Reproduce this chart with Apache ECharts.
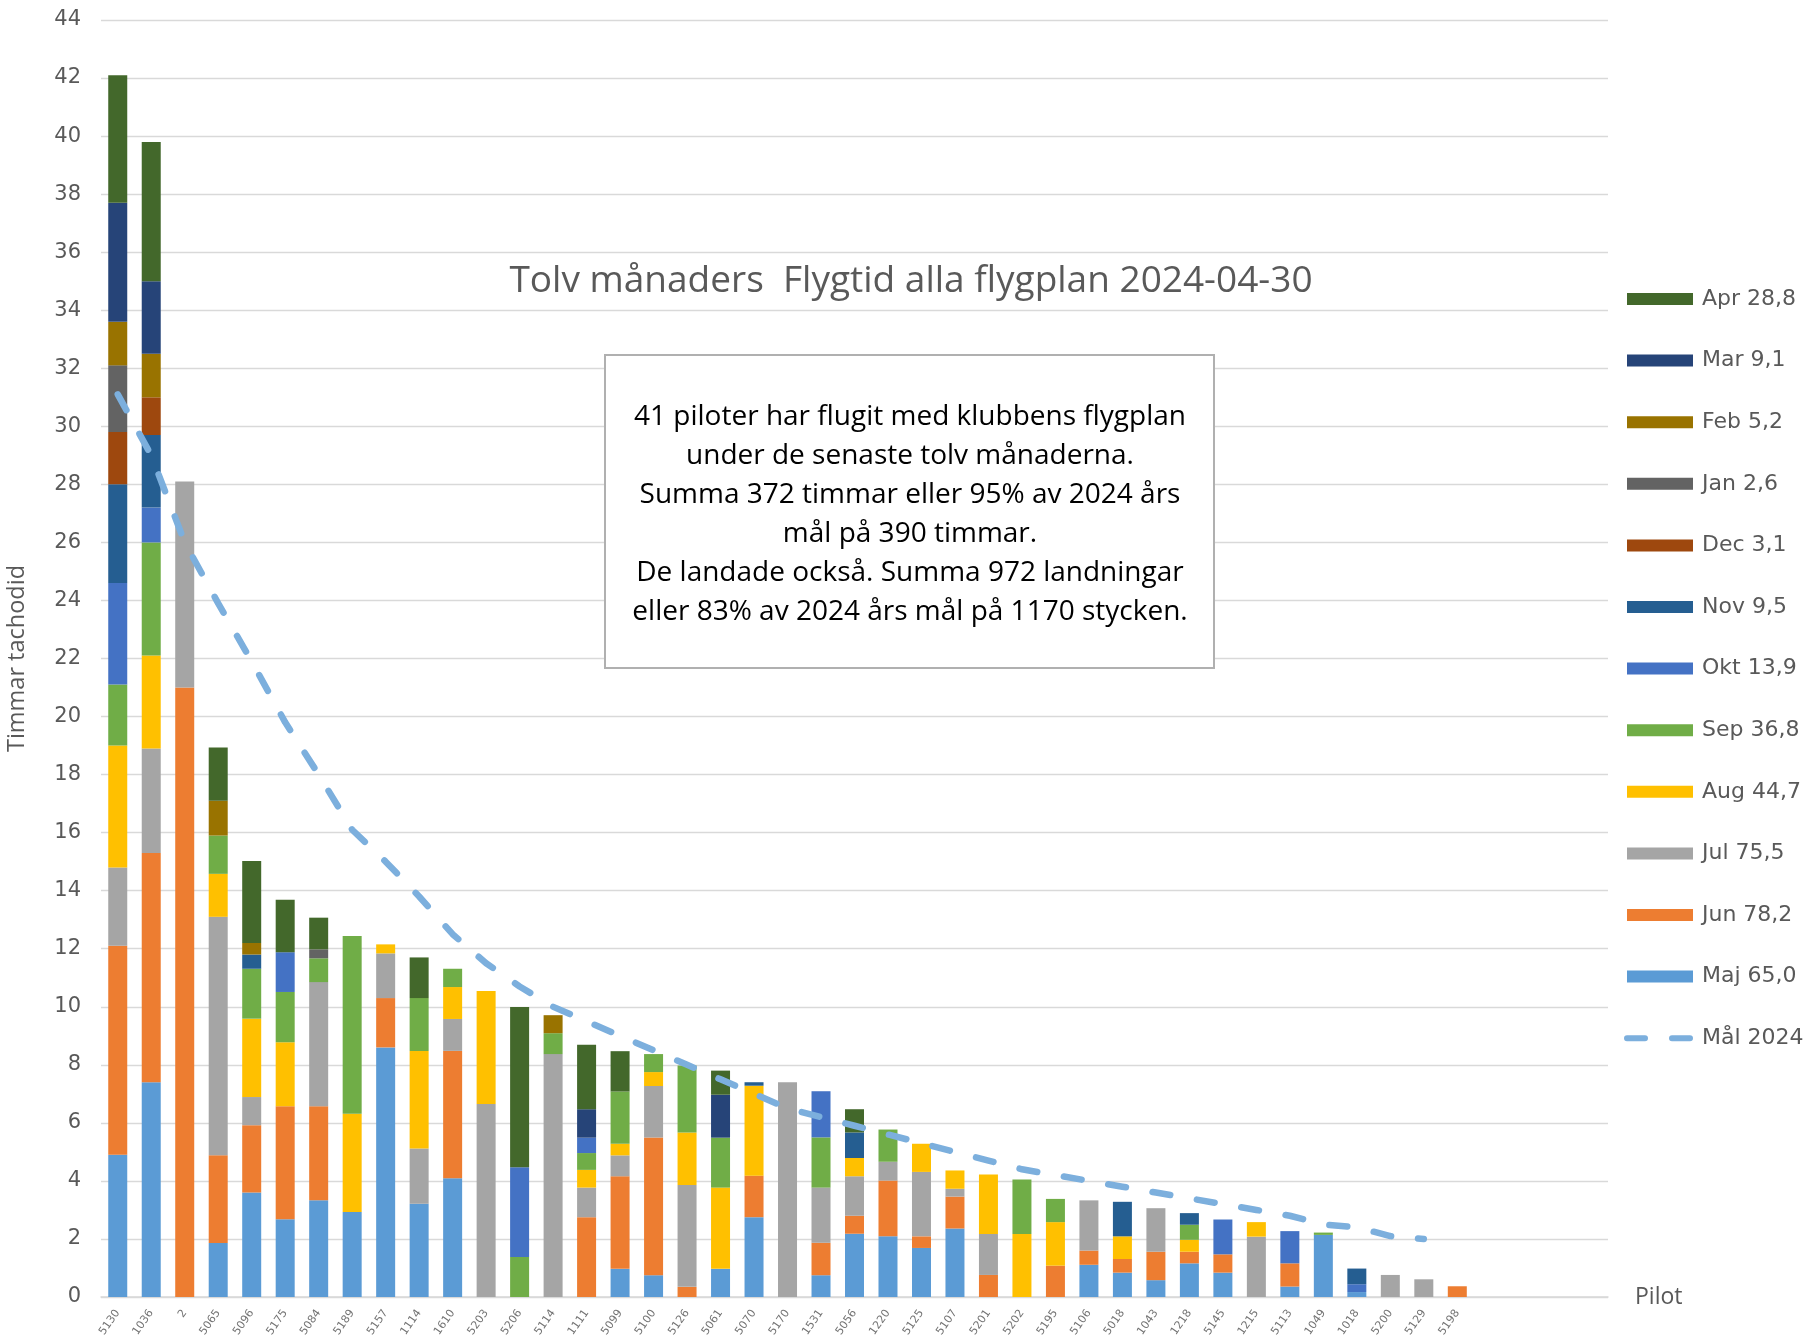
<!DOCTYPE html>
<html>
<head>
<meta charset="utf-8">
<script src="https://cdn.jsdelivr.net/npm/echarts@6/dist/echarts.min.js"></script>
<style>
  html, body { margin: 0; padding: 0; background: #fff; }
  #chart { width: 1808px; height: 1337px; }
</style>
</head>
<body>
<div id="chart"></div>
<script>
// piloter (4 tomma platser i slutet som i originalet)
const pilots = ['5130','1036','2','5065','5096','5175','5084','5189','5157','1114','1610','5203','5206','5114','1111','5099','5100','5126','5061','5070','5170','1531','5056','1220','5125','5107','5201','5202','5195','5106','5018','1043','1218','5145','1215','5113','1049','1018','5200','5129','5198','','','',''];

// timmar per månad och pilot
const maj = [4.9,7.4,0,1.86,3.6,2.68,3.33,2.93,8.6,3.21,4.09,0,0,0,0,0.97,0.75,0,0.97,2.75,0,0.75,2.18,2.09,1.69,2.36,0,0,0,1.11,0.84,0.58,1.16,0.84,0,0.36,2.14,0.17,0,0,0];
const jun = [7.2,7.9,21.0,3.02,2.32,3.89,3.24,0,1.7,0,4.39,0,0,0,2.75,3.19,4.75,0.35,0,1.43,0,1.12,0.62,1.92,0.4,1.1,0.76,0,1.08,0.49,0.47,0.98,0.4,0.63,0,0.8,0,0,0,0,0.37];
const jul = [2.7,3.6,7.1,8.22,0.97,0,4.28,0,1.54,1.91,1.1,6.65,0,8.37,1.02,0.72,1.77,3.51,0,0,7.4,1.9,1.36,0.65,2.22,0.27,1.41,0,0,1.73,0,1.5,0,0,2.08,0,0,0,0.76,0.61,0];
const aug = [4.2,3.2,0,1.48,2.7,2.21,0,3.38,0.31,3.36,1.1,3.89,0,0,0.61,0.4,0.48,1.81,2.8,3.1,0,0,0.63,0,0.97,0.63,2.05,2.17,1.5,0,0.78,0,0.41,0,0.5,0,0,0,0,0,0];
const sep = [2.1,3.9,0,1.32,1.72,1.73,0.82,6.13,0,1.82,0.63,0,1.38,0.72,0.58,1.8,0.62,2.31,1.72,0,0,1.73,0,1.11,0,0,0,1.88,0.8,0,0,0,0.52,0,0,0,0.08,0,0,0,0];
const okt = [3.5,1.2,0,0,0,1.37,0,0,0,0,0,0,3.09,0,0.53,0,0,0,0,0,0,1.59,0,0,0,0,0,0,0,0,0,0,0,1.2,0,1.11,0,0.27,0,0,0];
const nov = [3.4,2.5,0,0,0.49,0,0,0,0,0,0,0,0,0,0,0,0,0,0,0.12,0,0,0.88,0,0,0,0,0,0,0,1.19,0,0.4,0,0,0,0,0.54,0,0,0];
const dec = [1.8,1.3,0,0,0,0,0,0,0,0,0,0,0,0,0,0,0,0,0,0,0,0,0,0,0,0,0,0,0,0,0,0,0,0,0,0,0,0,0,0,0];
const jan = [2.3,0,0,0,0,0,0.31,0,0,0,0,0,0,0,0,0,0,0,0,0,0,0,0,0,0,0,0,0,0,0,0,0,0,0,0,0,0,0,0,0,0];
const feb = [1.5,1.5,0,1.2,0.4,0,0,0,0,0,0,0,0,0.62,0,0,0,0,0,0,0,0,0,0,0,0,0,0,0,0,0,0,0,0,0,0,0,0,0,0,0];
const mar = [4.1,2.5,0,0,0,0,0,0,0,0,0,0,0,0,0.98,0,0,0,1.48,0,0,0,0,0,0,0,0,0,0,0,0,0,0,0,0,0,0,0,0,0,0];
const apr = [4.4,4.8,0,1.83,2.82,1.81,1.09,0,0,1.4,0,0,5.52,0,2.22,1.39,0,0,0.83,0,0,0,0.8,0,0,0,0,0,0,0,0,0,0,0,0,0,0,0,0,0,0];

// mål 2024 per pilot
const mal = [31.1,29.0,26.0,23.9,21.9,19.8,18.0,16.1,15.0,13.8,12.5,11.5,10.7,10.0,9.5,9.0,8.5,8.0,7.5,7.0,6.5,6.2,5.9,5.6,5.3,5.0,4.7,4.4,4.2,4.0,3.8,3.6,3.4,3.2,3.0,2.8,2.5,2.4,2.1,2.0,null];

const months = [
  { name: 'Maj 65,0', data: maj, color: '#5b9bd5' },
  { name: 'Jun 78,2', data: jun, color: '#ed7d31' },
  { name: 'Jul 75,5', data: jul, color: '#a5a5a5' },
  { name: 'Aug 44,7', data: aug, color: '#ffc000' },
  { name: 'Sep 36,8', data: sep, color: '#70ad47' },
  { name: 'Okt 13,9', data: okt, color: '#4472c4' },
  { name: 'Nov 9,5', data: nov, color: '#255e91' },
  { name: 'Dec 3,1', data: dec, color: '#9e480e' },
  { name: 'Jan 2,6', data: jan, color: '#636363' },
  { name: 'Feb 5,2', data: feb, color: '#997300' },
  { name: 'Mar 9,1', data: mar, color: '#264478' },
  { name: 'Apr 28,8', data: apr, color: '#43682b' }
];
const malName = 'Mål 2024';
const malColor = '#7cafdd';

const boxText = [
  '41 piloter har flugit med klubbens flygplan',
  'under de senaste tolv månaderna.',
  'Summa 372 timmar eller 95% av 2024 års',
  'mål på 390 timmar.',
  'De landade också. Summa 972 landningar',
  'eller 83% av 2024 års mål på 1170 stycken.'
].join('\n');

const chart = echarts.init(document.getElementById('chart'));

const series = months.map(m => ({
  name: m.name,
  type: 'bar',
  stack: 'tot',
  barWidth: 19,
  data: m.data,
  itemStyle: { color: m.color },
  emphasis: { disabled: true }
}));
series.push({
  name: malName,
  type: 'line',
  data: mal,
  symbol: 'none',
  z: 5,
  lineStyle: { color: malColor, width: 6.5, type: [18, 27], cap: 'round' }
});

// legenden: Apr överst, Maj nederst, sedan målet
const legendData = months.slice().reverse().map(m => ({ name: m.name, icon: 'rect' }));
legendData.push({
  name: malName,
  itemStyle: { opacity: 0 },
  lineStyle: { color: malColor, width: 6, type: [18, 27], cap: 'round' }
});

const option = {
  animation: false,
  grid: { left: 101, right: 200, top: 20, bottom: 40, outerBoundsMode: 'none' },
  legend: {
    orient: 'vertical',
    left: 1619,
    top: 282,
    itemWidth: 66,
    itemHeight: 12,
    itemGap: 37.6,
    data: legendData,
    textStyle: { fontFamily: 'DejaVu Sans', fontSize: 22, color: '#595959', lineHeight: 24, padding: [0, 0, 0, 4] }
  },
  xAxis: {
    type: 'category',
    data: pilots,
    name: 'Pilot',
    nameLocation: 'end',
    nameGap: 27,
    nameTextStyle: { fontFamily: 'Open Sans', fontSize: 23, color: '#595959' },
    axisTick: { show: false },
    axisLine: { lineStyle: { color: '#d9d9d9', width: 1.5 } },
    axisLabel: { interval: 0, rotate: 55, fontSize: 11, color: '#737373', fontFamily: 'DejaVu Sans', margin: 14 }
  },
  yAxis: {
    type: 'value',
    min: 0,
    max: 44,
    interval: 2,
    name: 'Timmar tachodid',
    nameLocation: 'middle',
    nameGap: 72,
    nameRotate: 90,
    nameTextStyle: { fontFamily: 'Open Sans', fontSize: 23.5, color: '#595959' },
    axisLine: { show: false },
    axisTick: { show: false },
    axisLabel: { fontFamily: 'DejaVu Sans', fontSize: 21, color: '#595959', margin: 20 },
    splitLine: { lineStyle: { color: '#d9d9d9', width: 1.3 } }
  },
  graphic: [
    {
      type: 'text',
      x: 911,
      y: 281,
      z: 10,
      style: {
        text: 'Tolv månaders  Flygtid alla flygplan 2024-04-30',
        font: '37px "Open Sans"',
        fill: '#595959',
        textAlign: 'center',
        textVerticalAlign: 'middle'
      }
    },
    {
      type: 'rect',
      z: 10,
      shape: { x: 605, y: 355, width: 609, height: 313 },
      style: { fill: '#fff', stroke: '#b0b0b0', lineWidth: 2 }
    },
    {
      type: 'text',
      x: 910,
      y: 515,
      z: 11,
      style: {
        text: boxText,
        font: '28px "Open Sans"',
        lineHeight: 39,
        fill: '#000',
        textAlign: 'center',
        textVerticalAlign: 'middle'
      }
    }
  ],
  series: series
};

chart.setOption(option);
</script>
</body>
</html>
